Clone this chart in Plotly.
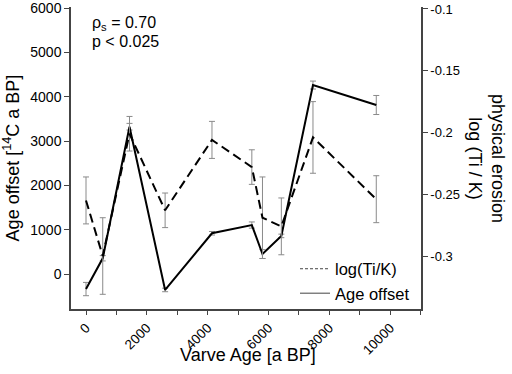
import plotly.graph_objects as go

# Data
varve_age = [0, 550, 1430, 2600, 4140, 5450, 5800, 6420, 7460, 9540]
age_offset = [-340, 355, 3325, -360, 920, 1105, 450, 860, 4265, 3815]
age_offset_err = [150, 60, 75, 40, 40, 70, 100, 40, 90, 215]
log_ti_k = [-0.255, -0.300, -0.201, -0.263, -0.206, -0.228, -0.269, -0.276, -0.204, -0.254]
log_ti_k_err = [0.019, 0.031, 0.014, 0.014, 0.015, 0.014, 0.033, 0.023, 0.029, 0.019]

left_ticks = [0, 1000, 2000, 3000, 4000, 5000, 6000]
right_ticks = [-0.3, -0.25, -0.2, -0.15, -0.1]
right_tick_labels = ["-0.3", "-0.25", "-0.2", "-0.15", "-0.1"]
x_ticks = [0, 2000, 4000, 6000, 8000, 10000]
x_tick_labels = ["0", "2000", "4000", "6000", "8000", "10000"]

FONT = "Arial, 'Liberation Sans', sans-serif"
ERRC = "#8a8a8a"
AXC = "#444444"

fig = go.Figure()

fig.add_trace(go.Scatter(
    x=varve_age, y=log_ti_k, yaxis="y2", mode="lines",
    line=dict(color="black", width=2, dash="9px,5px"),
    error_y=dict(type="data", array=log_ti_k_err, color=ERRC, thickness=1, width=3),
    showlegend=False, name="log(Ti/K)"))

fig.add_trace(go.Scatter(
    x=varve_age, y=age_offset, mode="lines",
    line=dict(color="black", width=2),
    error_y=dict(type="data", array=age_offset_err, color=ERRC, thickness=1, width=3),
    showlegend=False, name="Age offset"))

# legend-only entries (thin lines as in reference)
fig.add_trace(go.Scatter(x=[None], y=[None], mode="lines", name="log(Ti/K)",
                         line=dict(color="#444", width=1, dash="3px,2px")))
fig.add_trace(go.Scatter(x=[None], y=[None], mode="lines", name="Age offset",
                         line=dict(color="#444", width=1)))

fig.update_layout(
    width=512, height=374,
    margin=dict(l=71, r=91, t=7, b=65, autoexpand=False),
    paper_bgcolor="white", plot_bgcolor="white",
    font=dict(family=FONT, color="black"),
    xaxis=dict(range=[-493, 11010], tickvals=x_ticks, ticktext=x_tick_labels, tickangle=-45,
               ticks="outside", ticklen=4, tickcolor=AXC,
               minor=dict(dtick=1000, tick0=0, ticks="outside", ticklen=4, tickcolor=AXC),
               showline=True, linecolor=AXC, linewidth=1.5, showgrid=False, zeroline=False,
               tickfont=dict(size=13.5), automargin=False),
    yaxis=dict(range=[-790, 6027], tickvals=left_ticks, ticks="outside", ticklen=5,
               tickcolor=AXC, showline=True, linecolor=AXC, linewidth=1.5,
               showgrid=False, zeroline=False, tickfont=dict(size=14), automargin=False,
               title=dict(text="Age offset [<sup>14</sup>C a BP]", font=dict(size=18), standoff=7)),
    yaxis2=dict(range=[-0.3429, -0.0984], overlaying="y", side="right",
                tickvals=right_ticks, ticktext=right_tick_labels,
                ticks="outside", ticklen=5, tickcolor=AXC,
                showline=True, linecolor=AXC, linewidth=1.5, automargin=False,
                showgrid=False, zeroline=False, tickfont=dict(size=13)),
    legend=dict(x=0.64, y=-0.005, xanchor="left", yanchor="bottom",
                bgcolor="rgba(0,0,0,0)", font=dict(size=16.5), tracegroupgap=0),
    showlegend=True,
)

fig.add_annotation(text="ρ<sub>s</sub> = 0.70", xref="paper", yref="paper",
                   x=0.054, y=0.945, xanchor="left", yanchor="middle",
                   showarrow=False, font=dict(size=16))
fig.add_annotation(text="p &lt; 0.025", xref="paper", yref="paper",
                   x=0.054, y=0.887, xanchor="left", yanchor="middle",
                   showarrow=False, font=dict(size=16))
fig.add_annotation(text="Varve Age [a BP]", xref="paper", yref="paper",
                   x=(248 - 71) / 350, y=(309 - 355) / 302, xanchor="center", yanchor="middle",
                   showarrow=False, font=dict(size=18))
fig.add_annotation(text="physical erosion<br>log (Ti / K)", xref="paper", yref="paper",
                   x=1.0 + (487 - 421) / 350, y=0.5, xanchor="center", yanchor="middle",
                   textangle=90, showarrow=False, font=dict(size=18))

fig.write_html("out.html", config={"displayModeBar": False},
               post_script="document.body.style.margin='0';")
